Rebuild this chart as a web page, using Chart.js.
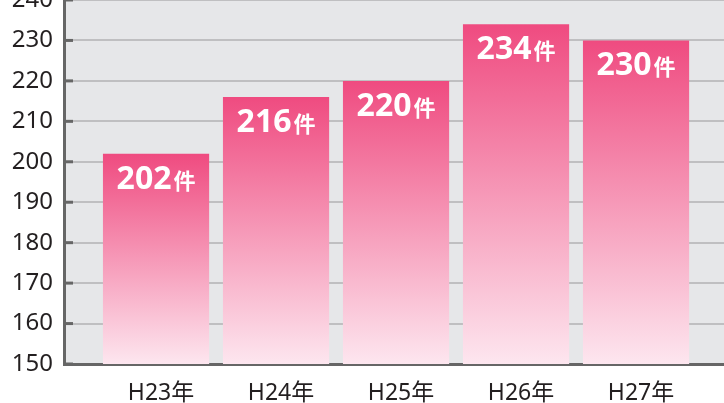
<!DOCTYPE html>
<html>
<head>
<meta charset="utf-8">
<script src="https://cdn.jsdelivr.net/npm/chart.js@4/dist/chart.umd.min.js"></script>
<style>
  body { margin: 0; background: #fff; }
</style>
</head>
<body>
<canvas id="chart" width="724" height="403"></canvas>
<script>
const years = ['H23年', 'H24年', 'H25年', 'H26年', 'H27年'];
const cases = [202, 216, 220, 234, 230];
const unit = '件';
const yMin = 150;
const yMax = 240;
const yStep = 10;

// grey plot background
const plotBg = {
    id: 'plotBg',
    beforeDraw(chart) {
        const { ctx, chartArea: a } = chart;
        ctx.save();
        ctx.fillStyle = '#e6e7e9';
        ctx.fillRect(a.left, a.top, a.right - a.left, a.bottom - a.top);
        ctx.restore();
    }
};

// short tick marks pointing into the plot
const innerTicks = {
    id: 'innerTicks',
    afterDraw(chart) {
        const { ctx, chartArea: a, scales } = chart;
        const y = scales.y;
        ctx.save();
        ctx.strokeStyle = '#666666';
        ctx.lineWidth = 3;
        y.ticks.forEach(t => {
            const py = y.getPixelForValue(t.value);
            ctx.beginPath();
            ctx.moveTo(a.left, py);
            ctx.lineTo(a.left + 9, py);
            ctx.stroke();
        });
        ctx.restore();
    }
};

// value labels inside the bars
const barLabels = {
    id: 'barLabels',
    afterDatasetsDraw(chart) {
        const ctx = chart.ctx;
        const meta = chart.getDatasetMeta(0);
        const numFont = 'bold 32px "Noto Sans", sans-serif';
        const unitFont = 'bold 22px "Noto Sans CJK JP", sans-serif';
        ctx.save();
        ctx.fillStyle = '#ffffff';
        ctx.textBaseline = 'alphabetic';
        ctx.textAlign = 'left';
        meta.data.forEach((bar, i) => {
            const num = String(cases[i]);
            ctx.font = numFont;
            const wn = ctx.measureText(num).width;
            ctx.font = unitFont;
            const wu = ctx.measureText(unit).width;
            const x0 = bar.x - (wn + wu + 2) / 2;
            const base = bar.y + 35;
            ctx.font = numFont;
            ctx.fillText(num, x0, base);
            ctx.font = unitFont;
            ctx.fillText(unit, x0 + wn + 2, base);
        });
        ctx.restore();
    }
};

function barGradient(c) {
    const chart = c.chart;
    const y = chart.scales.y;
    if (!y || c.dataIndex === undefined) return '#ef4b80';
    const top = y.getPixelForValue(cases[c.dataIndex]);
    const bottom = y.getPixelForValue(yMin);
    if (!isFinite(top) || !isFinite(bottom)) return '#ef4b80';
    const g = chart.ctx.createLinearGradient(0, top, 0, bottom);
    g.addColorStop(0, '#ef4b80');
    g.addColorStop(1, '#fde6ef');
    return g;
}

new Chart(document.getElementById('chart'), {
    type: 'bar',
    data: {
        datasets: [{
            data: cases.map((v, i) => ({ x: i, y: v })),
            backgroundColor: barGradient,
            borderWidth: 0,
            categoryPercentage: 1,
            barPercentage: 0.885
        }]
    },
    options: {
        responsive: false,
        animation: false,
        layout: { padding: 0 },
        plugins: {
            legend: { display: false },
            tooltip: { enabled: false }
        },
        scales: {
            x: {
                type: 'linear',
                min: -0.767,
                max: 4.733,
                offset: false,
                z: 1,
                afterBuildTicks: s => { s.ticks = years.map((_, i) => ({ value: i })); },
                afterFit: s => { s.height = 39; s.paddingLeft = 0; s.paddingRight = 0; },
                ticks: {
                    callback: v => years[v],
                    font: { family: '"Noto Sans", "Noto Sans CJK JP"', size: 23 },
                    color: '#231f20',
                    padding: 16,
                    labelOffset: 5,
                    maxRotation: 0,
                    autoSkip: false
                },
                grid: { display: false, drawTicks: false, offset: false },
                border: { color: '#666666', width: 3 }
            },
            y: {
                min: yMin,
                max: yMax,
                afterFit: s => { s.width = 64; s.paddingTop = 0; s.paddingBottom = 0; },
                ticks: {
                    stepSize: yStep,
                    font: { family: '"Noto Sans"', size: 24 },
                    color: '#231f20',
                    padding: 11
                },
                grid: { color: '#bfbfc1', lineWidth: 2, drawTicks: false },
                border: { color: '#666666', width: 3 }
            }
        }
    },
    plugins: [plotBg, innerTicks, barLabels]
});
</script>
</body>
</html>
